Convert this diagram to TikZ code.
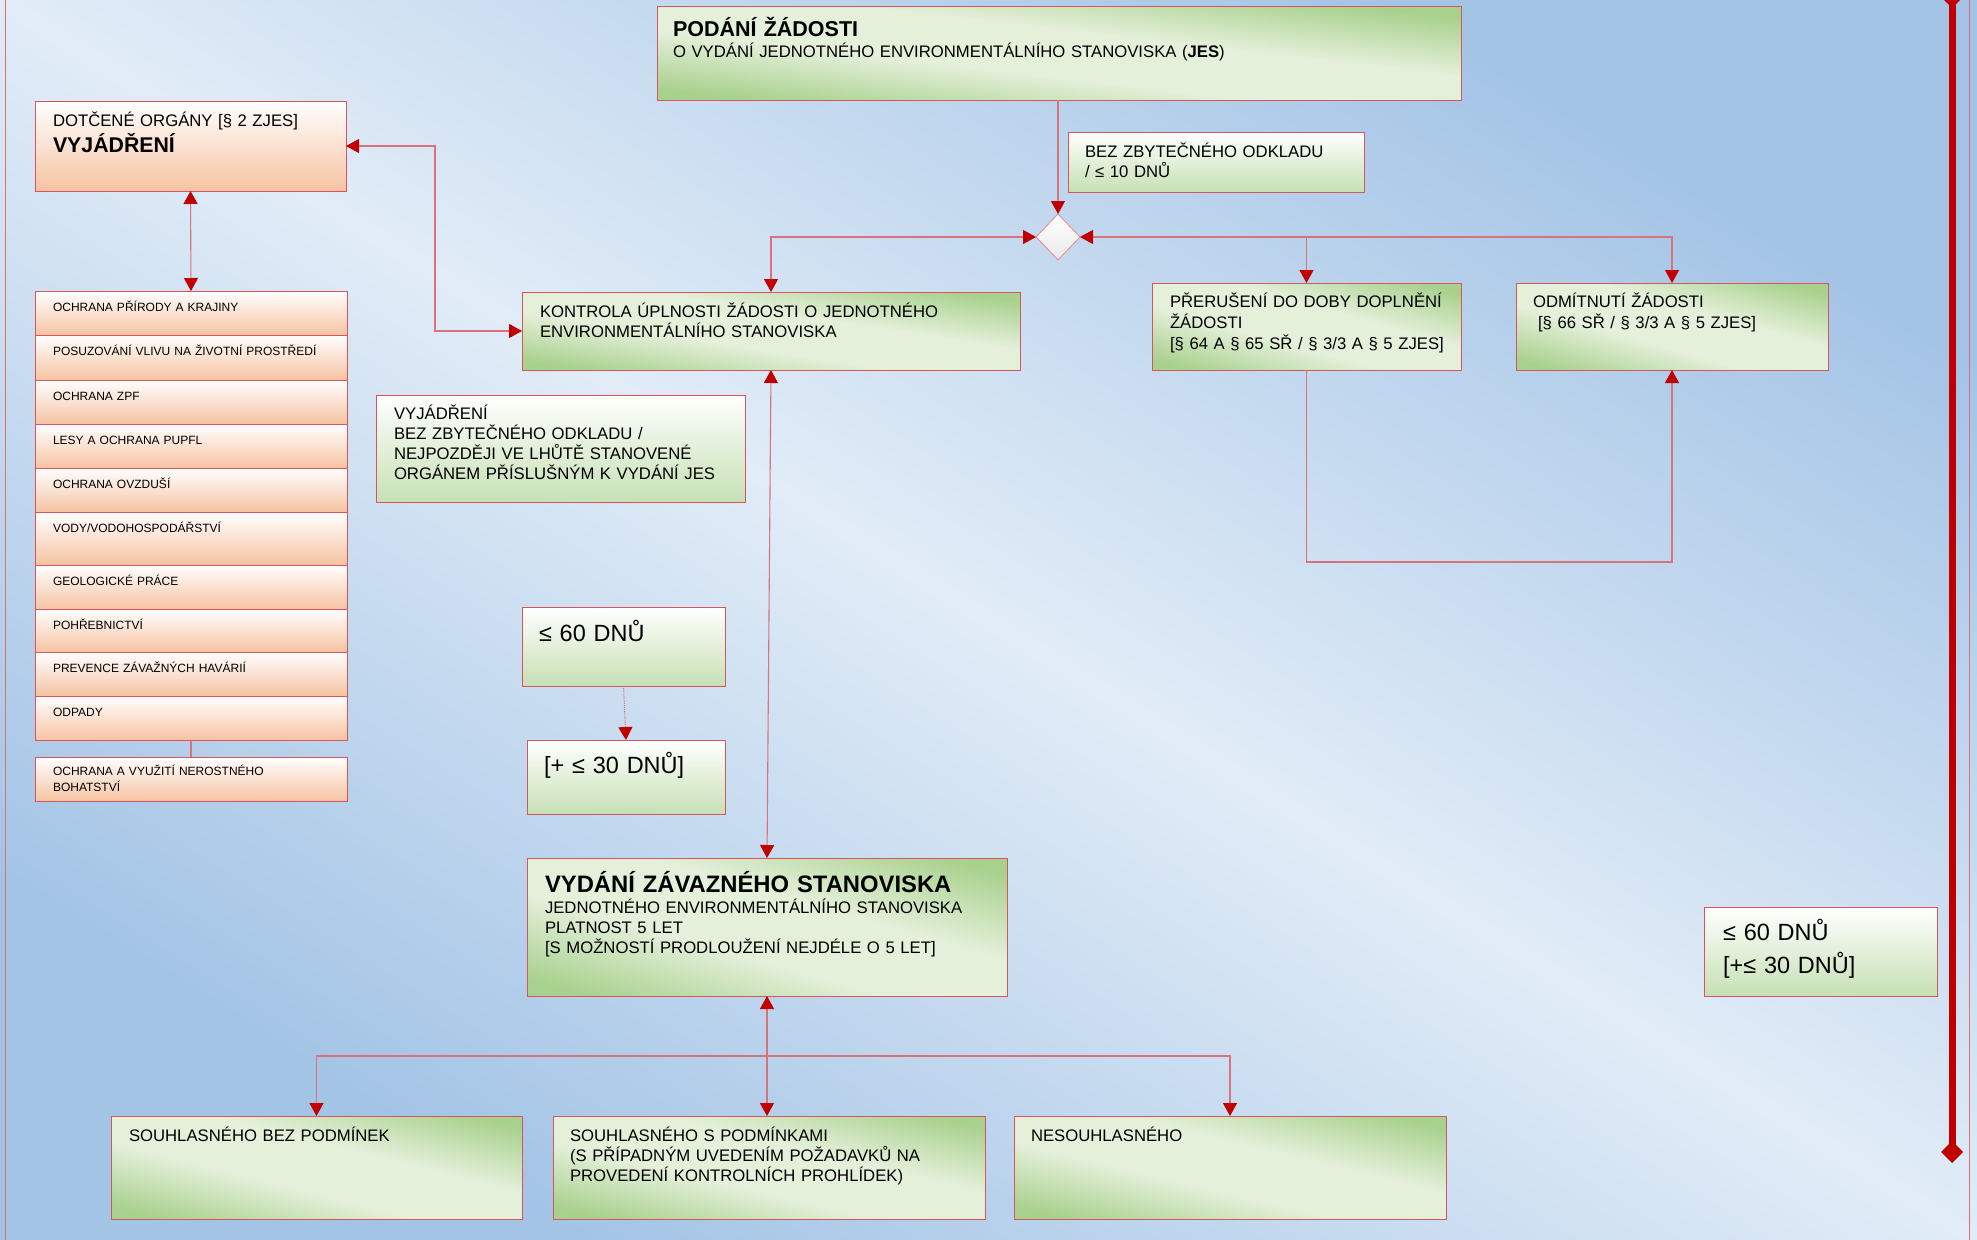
\documentclass[tikz,border=0pt]{standalone}
\usepackage{fontspec}
\setmainfont{Liberation Sans}
\usetikzlibrary{arrows.meta,shapes.geometric}

\definecolor{bgdark}{HTML}{A4C4E6}
\definecolor{bglight}{HTML}{E1ECF7}
\definecolor{grn}{HTML}{A9D18E}
\definecolor{grnlight}{HTML}{E5F0DB}
\definecolor{grnsoft}{HTML}{C6E0B4}
\definecolor{peach}{HTML}{F6C3A2}
\definecolor{edge}{HTML}{D9545C}
\definecolor{wire}{HTML}{D9727B}
\definecolor{tipred}{HTML}{C00000}

% green near two opposite corners, light across the middle
\pgfdeclareverticalshading{cornergreen}{100bp}{color(0bp)=(grn); color(19bp)=(grn);
  color(41bp)=(grnlight); color(59bp)=(grnlight); color(81bp)=(grn); color(100bp)=(grn)}

% rectangle filled with a gradient running across its diagonal
% (green corners top right and bottom left), then its framed node on top
% #1 name, #2 x, #3 y (top left), #4 width, #5 height
\newcommand\gradbox[5]{%
  \begin{scope}[transform canvas={shift={(#2+#4/2,#3+#5/2)}, xscale=#4/#5}]
    \shade[shading=cornergreen, shading angle=-45]
      (-#5/2,-#5/2) rectangle (#5/2,#5/2);
  \end{scope}
  \node[boxbase, minimum width=#4 pt, minimum height=#5 pt] (#1) at (#2,#3) {};%
}

\begin{document}
\begin{tikzpicture}[x=1pt,y=-1pt,
  every node/.style={inner sep=0pt, outer sep=0pt},
  boxbase/.style={draw=edge, line width=1pt, rectangle, anchor=north west},
  softbox/.style={boxbase, top color=white, bottom color=grnsoft},
  orangebox/.style={boxbase, top color=white, bottom color=peach},
  txt/.style={anchor=base west, align=left, text width=#1, font=\fontsize{16.7}{20.3}\selectfont},
  txt/.default=480pt,
  rowtxt/.style={anchor=base west, align=left, text width=290pt, font=\fontsize{12}{16}\selectfont},
  bigtxt/.style={anchor=base west, align=left, text width=220pt, font=\fontsize{23.5}{33}\selectfont},
  conn/.style={draw=wire, line width=1.1pt},
  >={Triangle[length=13pt,width=14pt,color=tipred]}
]
\useasboundingbox (0,0) rectangle (1977,1239);

% background
\begin{scope}[transform canvas={shift={(988.5,619.5)}, xscale=1977/1239}]
  \shade[top color=bgdark, bottom color=bgdark, middle color=bglight, shading angle=-45]
    (-619.5,-619.5) rectangle (619.5,619.5);
\end{scope}
\draw[edge!85, line width=1pt] (5,-5) rectangle (1969,1245);

% ---------- boxes ----------
\gradbox{podani}{657}{7}{804}{93}
\node[softbox, minimum width=296pt, minimum height=60pt] (bez) at (1068,132) {};
\node[diamond, draw=edge!70, line width=0.8pt, top color=white, bottom color=gray!18,
      minimum width=44pt, minimum height=46pt] (dia) at (1058,237) {};

\node[orangebox, minimum width=311pt, minimum height=90pt] (dotcene) at (35,101) {};

\node[orangebox, minimum width=312pt, minimum height=44pt] (r1) at (35,291) {};
\node[orangebox, minimum width=312pt, minimum height=45pt] (r2) at (35,335) {};
\node[orangebox, minimum width=312pt, minimum height=44pt] (r3) at (35,380) {};
\node[orangebox, minimum width=312pt, minimum height=44pt] (r4) at (35,424) {};
\node[orangebox, minimum width=312pt, minimum height=44pt] (r5) at (35,468) {};
\node[orangebox, minimum width=312pt, minimum height=53pt] (r6) at (35,512) {};
\node[orangebox, minimum width=312pt, minimum height=44pt] (r7) at (35,565) {};
\node[orangebox, minimum width=312pt, minimum height=43pt] (r8) at (35,609) {};
\node[orangebox, minimum width=312pt, minimum height=44pt] (r9) at (35,652) {};
\node[orangebox, minimum width=312pt, minimum height=44pt] (r10) at (35,696) {};
\node[orangebox, minimum width=312pt, minimum height=44pt] (r11) at (35,757) {};

\gradbox{kontrola}{522}{292}{498}{78}
\node[softbox, minimum width=369pt, minimum height=107pt] (vyj) at (376,395) {};
\node[softbox, minimum width=203pt, minimum height=79pt] (d60) at (522,607) {};
\node[softbox, minimum width=198pt, minimum height=74pt] (d30) at (527,740) {};
\gradbox{vydani}{527}{858}{480}{138}

\gradbox{prer}{1152}{283}{309}{87}
\gradbox{odm}{1516}{283}{312}{87}

\gradbox{b1}{111}{1116}{411}{103}
\gradbox{b2}{553}{1116}{432}{103}
\gradbox{b3}{1014}{1116}{432}{103}

\node[softbox, minimum width=233pt, minimum height=89pt] (lim) at (1704,907) {};

% ---------- texts ----------
\node[txt, font=\fontsize{21.5}{24}\selectfont\bfseries] (podaniT) at (673,36.5) {PODÁNÍ ŽÁDOSTI};
\node[txt=700pt] (podaniS) at (673,58) {O VYDÁNÍ JEDNOTNÉHO ENVIRONMENTÁLNÍHO STANOVISKA (\textbf{JES})};
\node[txt=290pt] (bezT) at (1085,157) {BEZ ZBYTEČNÉHO ODKLADU\\/ ≤ 10 DNŮ};

\node[txt=300pt] (dotceneS) at (53,126) {DOTČENÉ ORGÁNY [§ 2 ZJES]};
\node[txt=300pt, font=\fontsize{21.3}{24}\selectfont\bfseries] (dotceneT) at (53,152) {VYJÁDŘENÍ};

\node[rowtxt] (r1t) at (53,311.5) {OCHRANA PŘÍRODY A KRAJINY};
\node[rowtxt] (r2t) at (53,355.5) {POSUZOVÁNÍ VLIVU NA ŽIVOTNÍ PROSTŘEDÍ};
\node[rowtxt] (r3t) at (53,400) {OCHRANA ZPF};
\node[rowtxt] (r4t) at (53,444) {LESY A OCHRANA PUPFL};
\node[rowtxt] (r5t) at (53,488) {OCHRANA OVZDUŠÍ};
\node[rowtxt] (r6t) at (53,532) {VODY/VODOHOSPODÁŘSTVÍ};
\node[rowtxt] (r7t) at (53,585) {GEOLOGICKÉ PRÁCE};
\node[rowtxt] (r8t) at (53,629) {POHŘEBNICTVÍ};
\node[rowtxt] (r9t) at (53,672) {PREVENCE ZÁVAŽNÝCH HAVÁRIÍ};
\node[rowtxt] (r10t) at (53,716) {ODPADY};
\node[rowtxt] (r11t) at (53,775) {OCHRANA A VYUŽITÍ NEROSTNÉHO\\BOHATSTVÍ};

\node[txt] (kontrolaT) at (540,317) {KONTROLA ÚPLNOSTI ŽÁDOSTI O JEDNOTNÉHO\\ENVIRONMENTÁLNÍHO STANOVISKA};
\node[txt=350pt] (vyjT) at (394,419) {VYJÁDŘENÍ\\BEZ ZBYTEČNÉHO ODKLADU /\\NEJPOZDĚJI VE LHŮTĚ STANOVENÉ\\ORGÁNEM PŘÍSLUŠNÝM K VYDÁNÍ JES};

\node[bigtxt] (d60t) at (539,641) {≤ 60 DNŮ};
\node[bigtxt] (d30t) at (544,773) {[+ ≤ 30 DNŮ]};

\node[txt, font=\fontsize{23.8}{26}\selectfont\bfseries] (vydaniT) at (545,892) {VYDÁNÍ ZÁVAZNÉHO STANOVISKA};
\node[txt, font=\fontsize{16.7}{20}\selectfont] (vydaniS) at (545,913) {JEDNOTNÉHO ENVIRONMENTÁLNÍHO STANOVISKA\\PLATNOST 5 LET\\{[}S MOŽNOSTÍ PRODLOUŽENÍ NEJDÉLE O 5 LET]};

\node[txt=290pt, font=\fontsize{16.7}{21}\selectfont] (prerT) at (1170,307) {PŘERUŠENÍ DO DOBY DOPLNĚNÍ\\ŽÁDOSTI\\{[}§ 64 A § 65 SŘ / § 3/3 A § 5 ZJES]};
\node[txt=290pt, font=\fontsize{16.7}{21}\selectfont] (odmT) at (1533,307) {ODMÍTNUTÍ ŽÁDOSTI\\\hspace*{5pt}{[}§ 66 SŘ / § 3/3 A § 5 ZJES]};

\node[txt=390pt] (b1t) at (129,1141) {SOUHLASNÉHO BEZ PODMÍNEK};
\node[txt=410pt, font=\fontsize{16.7}{20}\selectfont] (b2t) at (570,1141) {SOUHLASNÉHO S PODMÍNKAMI\\(S PŘÍPADNÝM UVEDENÍM POŽADAVKŮ NA\\PROVEDENÍ KONTROLNÍCH PROHLÍDEK)};
\node[txt=400pt] (b3t) at (1031,1141) {NESOUHLASNÉHO};

\node[bigtxt] (limt) at (1723,940) {≤ 60 DNŮ\\{[}+≤ 30 DNŮ]};

% ---------- connectors ----------
\draw[conn, ->] (dia.north |- podani.south) -- (dia.north);
\draw[conn, <->] (dia.west) -| (kontrola.north);
\draw[conn, <->] (dia.east) -| (odm.north);
\draw[conn, ->] (prer.north |- dia.east) -- (prer.north);

\coordinate (loopbase) at (1490,562);
\draw[conn, ->] (prer.south) |- (loopbase) -| (odm.south);

\coordinate (toorg) at (435,146);
\draw[conn, <->] (dotcene.east) -- (toorg) |- (kontrola.west);
\draw[conn, <->] (dotcene.south) -- (r1.north);
\draw[conn] (r10.south) -- (r11.north);

\draw[conn, <->] (kontrola.south) -- (vydani.north);
\draw[conn, densely dotted, ->] (d60.south) -- (d30.north);

\coordinate (split) at (769,1056);
\draw[conn, <->] (vydani.south) -- (vydani.south |- b2.north);
\draw[conn, ->] (split) -| (b1.north);
\draw[conn, ->] (split) -| (b3.north);

% time bar on the right edge
\node[diamond, fill=tipred, minimum width=22pt, minimum height=22pt] (barTop) at (1952,-3) {};
\node[diamond, fill=tipred, minimum width=22pt, minimum height=22pt] (barEnd) at (1952,1152) {};
\draw[tipred, line width=7pt] (barTop.center) -- (barEnd.center);
\end{tikzpicture}
\end{document}
